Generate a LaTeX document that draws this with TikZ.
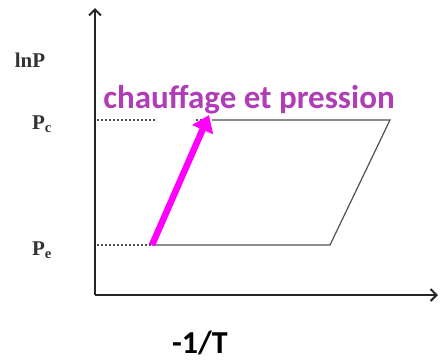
\documentclass[tikz,border=0pt]{standalone}
\usepackage{fontspec}
\setmainfont{Liberation Serif}
\newfontfamily\carlitofont{Carlito}
\usetikzlibrary{arrows.meta}
\definecolor{mag}{HTML}{FF00FF}
\definecolor{txtpurple}{HTML}{B03CB8}
\definecolor{linegray}{HTML}{505050}
\tikzset{
  axis/.style={line width=2pt, draw=black!85, -{Straight Barb[length=6pt,width=12pt]}},
  cycle/.style={line width=1.2pt, draw=linegray},
  dots/.style={line width=1.6pt, draw=linegray, dash pattern=on 2pt off 2pt},
  lab/.style={font=\bfseries\fontsize{21}{24}\selectfont, text=black!80, inner sep=0pt},
}
\begin{document}
\begin{tikzpicture}[x=1pt,y=-1pt]
\useasboundingbox (0,0) rectangle (440,362);
\coordinate (O) at (95,295);
\coordinate (ytop) at (95,8);
\coordinate (xend) at (438,295);
\draw[axis] (O) -- (ytop);
\draw[axis] (O) -- (xend);
% cycle
\coordinate (A) at (152,245);
\coordinate (B) at (330,245);
\coordinate (C) at (390,120);
\coordinate (D) at (212,120);
\coordinate (yc) at (97,120);
\coordinate (ye) at (97,245);
\coordinate (yc2) at (155,120);
\coordinate (yc3) at (196,120);
\coordinate (tip) at (209,115);
\draw[cycle] (A) -- (B) -- (C) -- (D);
\draw[dots] (ye) -- (A);
\draw[dots] (yc) -- (yc2);
\draw[dots] (yc3) -- (D);
% arrow
\draw[line width=6.5pt, mag, -{Triangle[length=16pt,width=22pt]}] (A) -- (tip);
% labels
\node[lab] (lnp) at (30,60) {lnP};
\node[lab] (pc) at (42,124) {P\textsubscript{c}};
\node[lab] (pe) at (42,250) {P\textsubscript{e}};
\node[font=\carlitofont\bfseries\fontsize{33}{38}\selectfont, text=txtpurple, inner sep=0pt] (title) at (249,100) {chauffage et pression};
\node[font=\carlitofont\bfseries\fontsize{32}{36}\selectfont, text=black, inner sep=0pt] (xl) at (200,343) {-1/T};
\end{tikzpicture}
\end{document}
